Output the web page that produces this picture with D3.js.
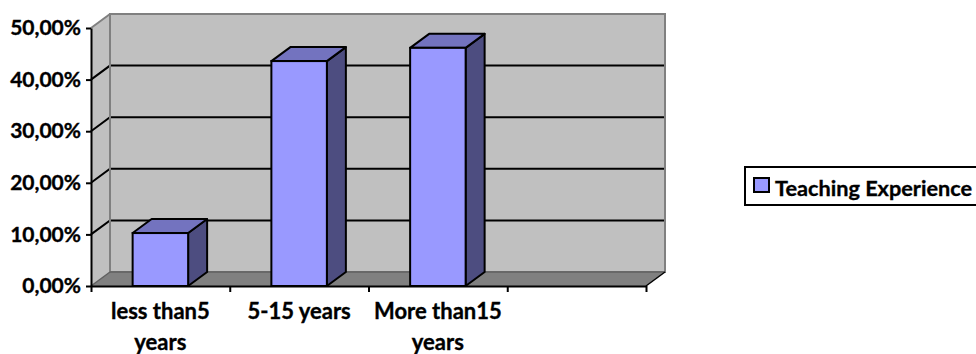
<!DOCTYPE html>
<html>
<head>
<meta charset="utf-8">
<script src="https://cdn.jsdelivr.net/npm/d3@7"></script>
<style>
  body { margin: 0; background: #fff; }
  svg { display: block; }
  text { font-family: Lato, "Open Sans", sans-serif; font-weight: bold; fill: #000; stroke: #000; stroke-width: 0.35px; }
</style>
</head>
<body>
<svg></svg>
<script>
// data
var categories = ["less than5 years", "5-15 years", "More than15 years", ""];
var values = [0.1026, 0.4359, 0.4615];
var seriesName = "Teaching Experience";
var yTicks = [0, 0.1, 0.2, 0.3, 0.4, 0.5];

window.onload = function() {
  var svg = d3.select("svg")
    .attr("width", 976)
    .attr("height", 354);

  // front plane of the plot and depth offset of the 3d box
  var left = 91, right = 646, top = 28, bottom = 286;
  var dx = 19, dy = -14;

  var y = d3.scaleLinear().domain([0, 0.5]).range([bottom, top]);
  var x = d3.scaleBand().domain(categories).range([left, right])
    .paddingInner(0.6).paddingOuter(0.3);
  var xi = d3.scaleLinear().domain([0, categories.length]).range([left, right]);

  var loc = d3.formatLocale({decimal: ",", thousands: ".", grouping: [3], currency: ["", ""]});
  var fmt = loc.format(".2%");

  // left wall
  svg.append("polygon")
    .attr("points", [[left, top], [left + dx, top + dy], [left + dx, bottom + dy], [left, bottom]].join(" "))
    .attr("fill", "#c0c0c0");
  // back wall
  svg.append("rect")
    .attr("x", left + dx).attr("y", top + dy)
    .attr("width", right - left).attr("height", bottom - top)
    .attr("fill", "#c0c0c0");
  // floor
  svg.append("polygon")
    .attr("points", [[left, bottom], [right, bottom], [right + dx, bottom + dy], [left + dx, bottom + dy]].join(" "))
    .attr("fill", "#808080");

  // gridlines on both walls
  var grid = yTicks.filter(function(t) { return t > 0 && t < 0.5; });
  grid.forEach(function(t) {
    svg.append("polyline")
      .attr("points", [[left, y(t)], [left + dx, y(t) + dy], [right + dx, y(t) + dy]].join(" "))
      .attr("fill", "none").attr("stroke", "#000").attr("stroke-width", 2);
  });

  // wall borders
  svg.append("rect")
    .attr("x", left + dx).attr("y", top + dy)
    .attr("width", right - left).attr("height", bottom - top)
    .attr("fill", "none").attr("stroke", "#808080").attr("stroke-width", 2);
  svg.append("line")
    .attr("x1", left).attr("y1", top).attr("x2", left + dx).attr("y2", top + dy)
    .attr("stroke", "#808080").attr("stroke-width", 2);
  svg.append("line")
    .attr("x1", left).attr("y1", bottom).attr("x2", left + dx).attr("y2", bottom + dy)
    .attr("stroke", "#606060").attr("stroke-width", 1.5);
  svg.append("line")
    .attr("x1", left + dx).attr("y1", bottom + dy).attr("x2", right + dx).attr("y2", bottom + dy)
    .attr("stroke", "#606060").attr("stroke-width", 1.5);
  svg.append("line")
    .attr("x1", right).attr("y1", bottom).attr("x2", right + dx).attr("y2", bottom + dy)
    .attr("stroke", "#000").attr("stroke-width", 1.5);

  // bars
  var bw = x.bandwidth();
  var bars = svg.selectAll("g.bar")
    .data(values).enter()
    .append("g").attr("class", "bar");

  bars.append("polygon")
    .attr("points", function(d, i) {
      var bx = x(categories[i]), by = y(d);
      return [[bx + bw, by], [bx + bw + dx, by + dy], [bx + bw + dx, bottom + dy], [bx + bw, bottom]].join(" ");
    })
    .attr("fill", "#4d4d80").attr("stroke", "#000").attr("stroke-width", 2).attr("stroke-linejoin", "round");
  bars.append("polygon")
    .attr("points", function(d, i) {
      var bx = x(categories[i]), by = y(d);
      return [[bx, by], [bx + dx, by + dy], [bx + bw + dx, by + dy], [bx + bw, by]].join(" ");
    })
    .attr("fill", "#7373bf").attr("stroke", "#000").attr("stroke-width", 2).attr("stroke-linejoin", "round");
  bars.append("rect")
    .attr("x", function(d, i) { return x(categories[i]); })
    .attr("y", function(d) { return y(d); })
    .attr("width", bw)
    .attr("height", function(d) { return bottom - y(d); })
    .attr("fill", "#9999ff").attr("stroke", "#000").attr("stroke-width", 2);

  // y axis
  var yAxis = svg.append("g")
    .attr("transform", "translate(" + left + ",0)")
    .call(d3.axisLeft(y).tickValues(yTicks).tickFormat(fmt).tickSize(5).tickSizeOuter(0).tickPadding(5));
  yAxis.select(".domain").attr("stroke", "#000").attr("stroke-width", 2);
  yAxis.selectAll(".tick line").attr("stroke", "#000").attr("stroke-width", 2);
  yAxis.selectAll(".tick text")
    .style("font-family", "Lato, sans-serif").style("font-weight", "bold")
    .attr("font-size", 21);

  // x axis: ticks at category boundaries
  var xAxis = svg.append("g")
    .attr("transform", "translate(0," + bottom + ")")
    .call(d3.axisBottom(xi).tickValues(d3.range(categories.length + 1)).tickFormat("").tickSize(6).tickSizeOuter(0));
  xAxis.select(".domain").attr("stroke", "#000").attr("stroke-width", 2);
  xAxis.selectAll(".tick line").attr("stroke", "#000").attr("stroke-width", 2);

  // category labels, wrapped to the category width
  var step = x.step();
  categories.forEach(function(c) {
    if (!c) return;
    var cx = x(c) + bw / 2;
    var t = svg.append("text")
      .attr("text-anchor", "middle")
      .attr("font-size", 22)
      .attr("x", cx)
      .attr("y", 319);
    var words = c.split(" "), line = [];
    var ts = t.append("tspan").attr("x", cx).attr("dy", 0);
    words.forEach(function(w) {
      line.push(w);
      ts.text(line.join(" "));
      if (ts.node().getComputedTextLength() > step - 10 && line.length > 1) {
        line.pop();
        ts.text(line.join(" "));
        line = [w];
        ts = t.append("tspan").attr("x", cx).attr("dy", 31).text(w);
      }
    });
  });

  // legend
  var lg = svg.append("g").attr("transform", "translate(745,167)");
  lg.append("rect")
    .attr("width", 240).attr("height", 38)
    .attr("fill", "#fff").attr("stroke", "#000").attr("stroke-width", 2);
  lg.append("rect")
    .attr("x", 9).attr("y", 11).attr("width", 15).attr("height", 14)
    .attr("fill", "#9999ff").attr("stroke", "#000").attr("stroke-width", 2);
  lg.append("text")
    .attr("x", 30).attr("y", 29)
    .attr("font-size", 21.7)
    .text(seriesName);
};
</script>
</body>
</html>
